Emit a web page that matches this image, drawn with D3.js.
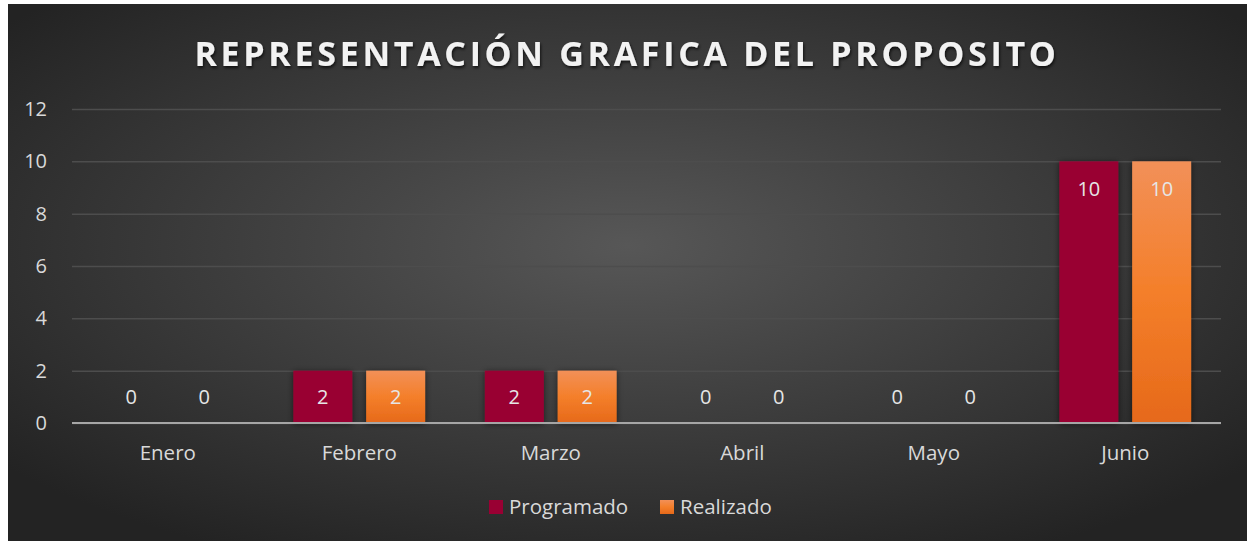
<!DOCTYPE html>
<html>
<head>
<meta charset="utf-8">
<script src="https://cdn.jsdelivr.net/npm/d3@7"></script>
<style>
  body { margin: 0; background: #fff; }
  svg { display: block; font-family: "Open Sans", sans-serif; }
</style>
</head>
<body>
<div class="chart"></div>
<script>
var months = ['Enero', 'Febrero', 'Marzo', 'Abril', 'Mayo', 'Junio'];
var programado = [0, 2, 2, 0, 0, 10];
var realizado = [0, 2, 2, 0, 0, 10];
var seriesNames = ['Programado', 'Realizado'];
var yTicks = [0, 2, 4, 6, 8, 10, 12];

var W = 1247, H = 541;
var margin = { top: 109, right: 26, bottom: 118, left: 72 };
var width = W - margin.left - margin.right;
var height = H - margin.top - margin.bottom;

var svg = d3.select('.chart')
    .append('svg')
    .attr('width', W)
    .attr('height', H);

var defs = svg.append('defs');
var bg = defs.append('radialGradient').attr('id', 'bg')
    .attr('cx', '50%').attr('cy', '45%').attr('r', '65%');
bg.append('stop').attr('offset', '0%').attr('stop-color', '#575757');
bg.append('stop').attr('offset', '100%').attr('stop-color', '#232323');

var og = defs.append('linearGradient').attr('id', 'orange')
    .attr('x1', 0).attr('y1', 0).attr('x2', 0).attr('y2', 1);
og.append('stop').attr('offset', '0%').attr('stop-color', '#f29058');
og.append('stop').attr('offset', '50%').attr('stop-color', '#f47f2a');
og.append('stop').attr('offset', '100%').attr('stop-color', '#e6691a');

var sh = defs.append('filter').attr('id', 'shadow')
    .attr('x', '-20%').attr('y', '-20%').attr('width', '140%').attr('height', '140%');
sh.append('feDropShadow').attr('dx', 0).attr('dy', 1).attr('stdDeviation', 3)
    .attr('flood-color', '#000').attr('flood-opacity', 0.55);

var tsh = defs.append('filter').attr('id', 'tshadow');
tsh.append('feDropShadow').attr('dx', 1).attr('dy', 2).attr('stdDeviation', 1.5)
    .attr('flood-color', '#000').attr('flood-opacity', 0.7);

svg.append('rect')
    .attr('x', 8).attr('y', 4)
    .attr('width', W - 8).attr('height', H - 4)
    .style('fill', 'url(#bg)');

svg.append('text')
    .attr('x', 627).attr('y', 66)
    .attr('text-anchor', 'middle')
    .style('font-size', '34px')
    .style('font-weight', 'bold')
    .style('letter-spacing', '3.7px')
    .style('fill', '#f2f2f2')
    .attr('filter', 'url(#tshadow)')
    .text('REPRESENTACIÓN GRAFICA DEL PROPOSITO');

var g = svg.append('g')
    .attr('transform', `translate(${margin.left},${margin.top})`);

var yScale = d3.scaleLinear()
    .domain([0, 12])
    .range([height, 0]);

var xScale = d3.scaleBand()
    .domain(months)
    .range([0, width])
    .paddingInner(0)
    .paddingOuter(0);

var inner = d3.scaleBand()
    .domain(seriesNames)
    .range([0, xScale.bandwidth()])
    .paddingInner(0.19)
    .paddingOuter(0.41);

// gridlines
g.append('g')
    .call(d3.axisLeft(yScale).tickValues(yTicks).tickSize(-width).tickFormat(''))
    .call(s => s.select('.domain').remove())
    .call(s => s.selectAll('line').style('stroke', '#4d4d4d').style('stroke-width', 1.5));

// y labels
g.append('g')
    .call(d3.axisLeft(yScale).tickValues(yTicks).tickSize(0).tickPadding(25))
    .call(s => s.select('.domain').remove())
    .call(s => s.selectAll('text')
        .style('font-size', '20px')
        .style('font-family', '"Open Sans", sans-serif')
        .style('fill', '#d9d9d9'));

var data = months.map((m, i) => ({ month: m, values: [
    { key: 'Programado', v: programado[i] },
    { key: 'Realizado', v: realizado[i] }
] }));

var colors = { Programado: '#990033', Realizado: 'url(#orange)' };

var groups = g.selectAll('.grp').data(data).enter().append('g')
    .attr('transform', d => `translate(${xScale(d.month)},0)`);

groups.selectAll('rect').data(d => d.values).enter().append('rect')
    .attr('x', d => inner(d.key))
    .attr('y', d => yScale(d.v))
    .attr('width', inner.bandwidth())
    .attr('height', d => height - yScale(d.v))
    .style('fill', d => colors[d.key])
    .attr('filter', 'url(#shadow)');

groups.selectAll('.lbl').data(d => d.values).enter().append('text')
    .attr('x', d => inner(d.key) + inner.bandwidth() / 2)
    .attr('y', d => d.v >= 10 ? yScale(d.v) + 35 : yScale(0) - 19)
    .attr('text-anchor', 'middle')
    .style('font-size', '20px')
    .style('fill', '#e6e6e6')
    .text(d => d.v);

// x axis
g.append('line')
    .attr('x1', 0).attr('x2', width)
    .attr('y1', height).attr('y2', height)
    .style('stroke', '#a6a6a6').style('stroke-width', 2);

g.append('g')
    .attr('transform', 'translate(0,' + height + ')')
    .call(d3.axisBottom(xScale).tickSize(0).tickPadding(22))
    .call(s => s.select('.domain').remove())
    .call(s => s.selectAll('text')
        .style('font-size', '20.5px')
        .style('font-family', '"Open Sans", sans-serif')
        .style('fill', '#d9d9d9'));

// legend
var legend = svg.append('g').attr('transform', 'translate(489,507)');
var lx = [0, 171];
seriesNames.forEach((n, i) => {
    var it = legend.append('g').attr('transform', `translate(${lx[i]},0)`);
    it.append('rect').attr('x', 0).attr('y', -7).attr('width', 14).attr('height', 14)
        .style('fill', colors[n]);
    it.append('text').attr('x', 20).attr('y', 7)
        .style('font-size', '20.5px').style('fill', '#d9d9d9')
        .text(n);
});
</script>
</body>
</html>
